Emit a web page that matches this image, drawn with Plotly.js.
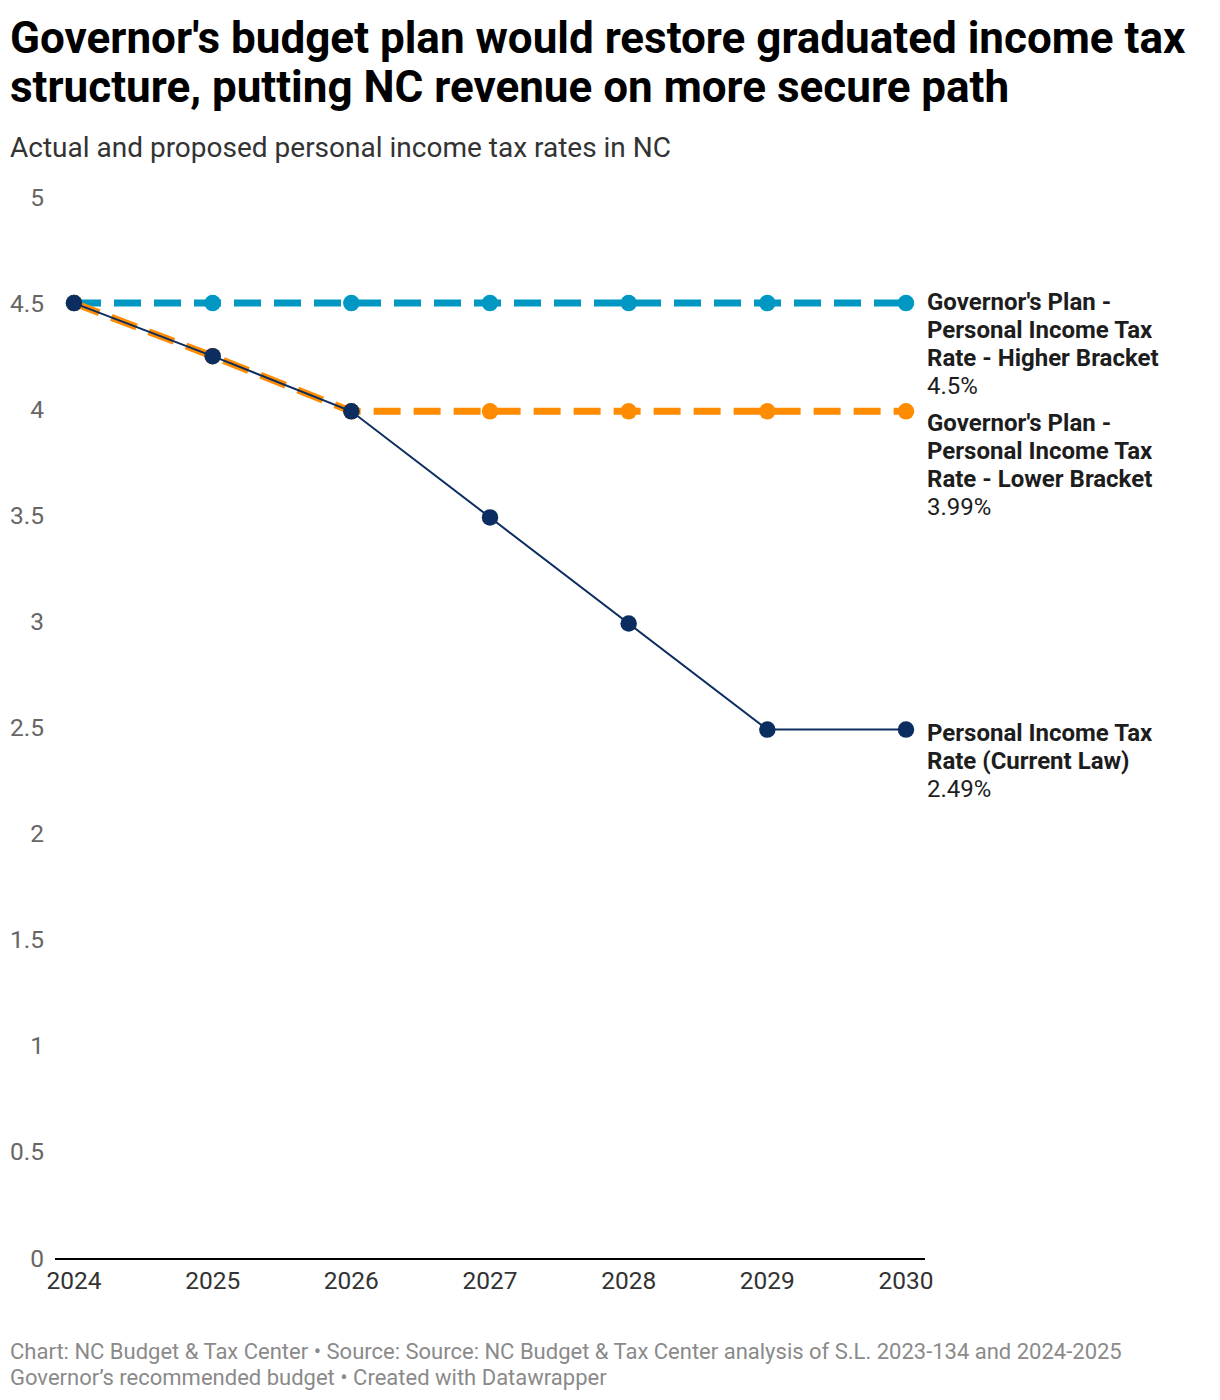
<!DOCTYPE html>
<html>
<head>
<meta charset="utf-8">
<script src="https://cdn.plot.ly/plotly-3.0.1.min.js"></script>
<style>html,body{margin:0;padding:0;background:#fff;}#chart{width:1220px;height:1400px;}</style>
</head>
<body>
<div id="chart"></div>
<script>
var years = [2024, 2025, 2026, 2027, 2028, 2029, 2030];
var higherBracket = [4.5, 4.5, 4.5, 4.5, 4.5, 4.5, 4.5];
var lowerBracket = [4.5, 4.25, 3.99, 3.99, 3.99, 3.99, 3.99];
var currentLaw = [4.5, 4.25, 3.99, 3.49, 2.99, 2.49, 2.49];
var yTicks = [0, 0.5, 1, 1.5, 2, 2.5, 3, 3.5, 4, 4.5, 5];
var higherName = ["Governor's Plan -", "Personal Income Tax", "Rate - Higher Bracket"];
var lowerName = ["Governor's Plan -", "Personal Income Tax", "Rate - Lower Bracket"];
var currentName = ["Personal Income Tax", "Rate (Current Law)"];
var titleLines = ["Governor's budget plan would restore graduated income tax",
                  "structure, putting NC revenue on more secure path"];
var subtitle = "Actual and proposed personal income tax rates in NC";
var footerLines = ["Chart: NC Budget &amp; Tax Center • Source: Source: NC Budget &amp; Tax Center analysis of S.L. 2023-134 and 2024-2025",
                   "Governor’s recommended budget • Created with Datawrapper"];

var blue = '#0098c3', orange = '#ff8c00', navy = '#0b2d5f';
var font = 'Roboto, "Noto Sans", sans-serif';

var traces = [
  {x: years, y: higherBracket, mode: 'lines+markers', name: 'Higher',
   line: {color: blue, width: 7, dash: '27px,13px'}, marker: {color: blue, size: 16.5}},
  {x: years, y: lowerBracket, mode: 'lines+markers', name: 'Lower',
   line: {color: orange, width: 7, dash: '27px,13px'}, marker: {color: orange, size: 16.5}},
  {x: years, y: currentLaw, mode: 'lines+markers', name: 'Current',
   line: {color: navy, width: 2}, marker: {color: navy, size: 16.5}}
];

var last = years.length - 1;
var annotations = [];
function endLabel(nameLines, val, firstShift) {
  var lines = nameLines.map(function (s) { return '<b>' + s + '</b>'; });
  lines.push(val + '%');
  lines.forEach(function (t, i) {
    annotations.push({x: years[last], y: val, xref: 'x', yref: 'y', xanchor: 'left', yanchor: 'middle',
      xshift: 19, yshift: firstShift - 28 * i, align: 'left', showarrow: false, text: t,
      font: {family: font, size: 24, color: '#1d1d1d'}});
  });
}
endLabel(higherName, higherBracket[last], 1);
endLabel(lowerName, lowerBracket[last], -12);
endLabel(currentName, currentLaw[last], -3);

function pyToPaper(py) { return (1258 - py) / 1061; }
var leftX = (10 - 55) / 870;
annotations.push({x: leftX, y: pyToPaper(87), xref: 'paper', yref: 'paper', xanchor: 'left', yanchor: 'middle',
  xshift: -2, showarrow: false, text: '<b>' + titleLines[1] + '</b>', font: {family: font, size: 44, color: '#000'}});
annotations.push({x: leftX, y: pyToPaper(147), xref: 'paper', yref: 'paper', xanchor: 'left', yanchor: 'middle',
  xshift: -2, showarrow: false, text: subtitle, font: {family: font, size: 28, color: '#333333'}});
footerLines.forEach(function (t, i) {
  annotations.push({x: leftX, y: pyToPaper(1351 + 26 * i), xref: 'paper', yref: 'paper', xanchor: 'left', yanchor: 'middle',
    xshift: -2, showarrow: false, text: t, font: {family: font, size: 22, color: '#8a8a8a'}});
});

var layout = {
  width: 1220, height: 1400,
  margin: {l: 55, r: 295, t: 197, b: 142},
  paper_bgcolor: '#fff', plot_bgcolor: '#fff',
  showlegend: false,
  title: {text: '<b>' + titleLines[0] + '</b>',
    x: 10 / 1220, xanchor: 'left', xref: 'container', y: 1 - 38 / 1400, yanchor: 'middle', yref: 'container',
    font: {family: font, size: 44, color: '#000'}},
  xaxis: {range: [2023.863, 2030.137], tickvals: years, ticktext: years.map(String),
    showgrid: false, zeroline: false, showline: true, linecolor: '#000', linewidth: 2,
    ticks: '', tickfont: {family: font, size: 24.5, color: '#333'}, fixedrange: true},
  yaxis: {range: [0, 5], tickvals: yTicks, ticktext: yTicks.map(String), showgrid: false,
    zeroline: false, showline: false, ticks: '', ticklabelstandoff: 10,
    tickfont: {family: font, size: 24.5, color: '#666'}, fixedrange: true},
  annotations: annotations
};

Plotly.newPlot('chart', traces, layout, {displayModeBar: false, staticPlot: true});
</script>
</body>
</html>
